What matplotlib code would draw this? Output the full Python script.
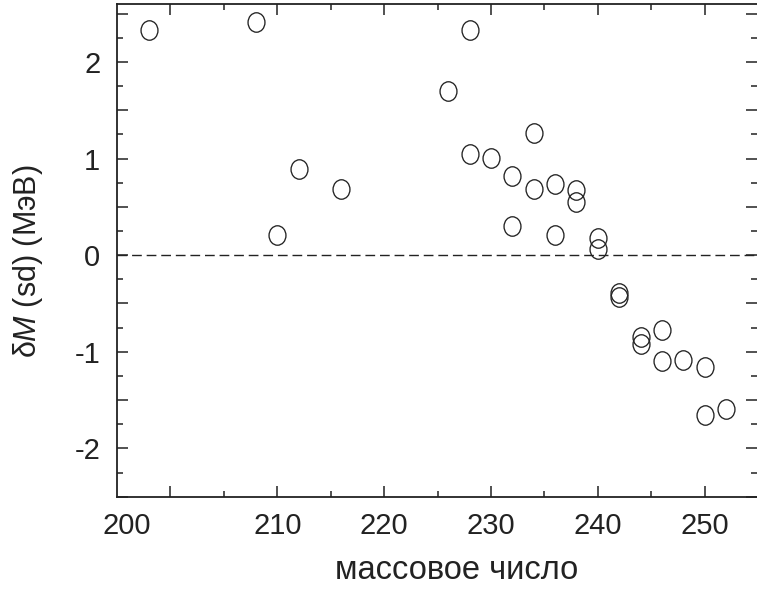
import matplotlib
matplotlib.use("Agg")
from matplotlib import pyplot as plt
from matplotlib.path import Path
from matplotlib.transforms import Affine2D, ScaledTranslation
import numpy as np

# mass number and delta M (sd), MeV
mass = [198, 208, 210, 212, 216,
        226, 228, 228, 230, 232, 232,
        234, 234, 236, 236, 238, 238,
        240, 240, 242, 242, 244, 244,
        246, 246, 248, 250, 250, 252]
dM = [2.33, 2.41, 0.21, 0.89, 0.69,
      1.70, 2.33, 1.05, 1.01, 0.82, 0.30,
      1.26, 0.69, 0.74, 0.21, 0.67, 0.55,
      0.18, 0.06, -0.39, -0.43, -0.85, -0.92,
      -0.77, -1.10, -1.08, -1.16, -1.65, -1.59]

xticks = [200, 210, 220, 230, 240, 250]
yticks = [-2, -1, 0, 1, 2]

plt.rcParams['font.family'] = ['Liberation Sans', 'DejaVu Sans']
plt.rcParams['mathtext.fontset'] = 'custom'
plt.rcParams['mathtext.it'] = 'Liberation Sans:italic'
plt.rcParams['mathtext.rm'] = 'Liberation Sans'

fig = plt.figure(figsize=(7.57, 5.92), dpi=100)
ax = fig.add_axes([117/757, 1-496.7/592, 1-117/757, (496.7-4)/592])

# slightly tall open ellipse as marker
ell = Path.unit_circle().transformed(Affine2D().scale(0.87, 1.0))
ax.plot(mass, dM, linestyle='none', marker=ell, markersize=14,
        markerfacecolor='none', markeredgecolor='#222222', markeredgewidth=0.95)

ax.axhline(0, color='#222222', lw=1.0, dashes=(7, 3.5))

ax.set_xlim(195, 254.9)
ax.set_ylim(-2.5, 2.6)
ax.set_xticks(xticks)
ax.set_xticks(np.arange(205, 255, 10), minor=True)
ax.set_yticks(np.arange(-2.5, 2.6, 0.5))
ax.set_yticklabels([str(int(v)) if v in yticks else '' for v in np.arange(-2.5, 2.6, 0.5)])
ax.set_yticks(np.arange(-2.25, 2.6, 0.5), minor=True)

ax.tick_params(which='both', direction='in', top=True, right=True,
               width=1.1, color='#222222', labelsize=21, labelcolor='#222222')
ax.tick_params(which='major', length=8)
ax.tick_params(which='minor', length=4.5)
ax.tick_params(axis='x', pad=11)
ax.tick_params(axis='y', pad=12)
for s in ['left', 'bottom', 'top']:
    ax.spines[s].set_linewidth(1.3)
    ax.spines[s].set_color('#222222')
ax.spines['right'].set_visible(False)

ax.set_xlabel('массовое число', fontsize=23.5, color='#222222')
ax.set_ylabel(r'δ$M$ (sd) (МэВ)', fontsize=22, color='#222222')
ax.xaxis.set_label_coords(0.531, -0.118)
ax.yaxis.set_label_coords(-0.113, 0.478)

# the "200" label sits left of its tick in the original
lab = ax.get_xticklabels()[0]
lab.set_transform(lab.get_transform() + ScaledTranslation(-0.44, 0, fig.dpi_scale_trans))

plt.savefig('out.png', dpi=100)
